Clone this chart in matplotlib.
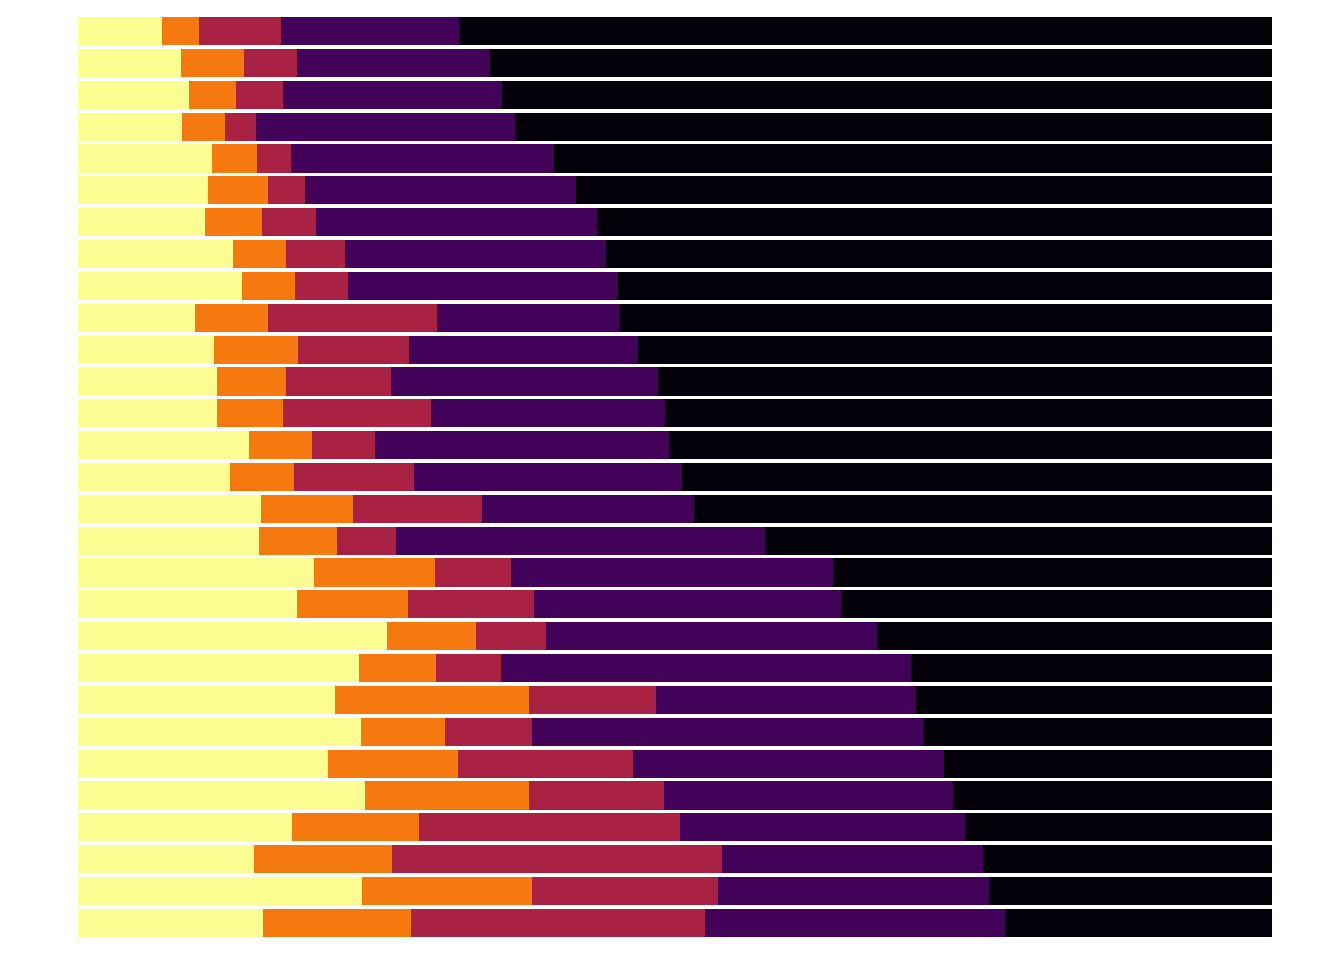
import numpy as np
import matplotlib
matplotlib.use("Agg")
import matplotlib.pyplot as plt

# segment shares (percent) per row, top row first
seg_a = [7.0, 8.6, 9.3, 8.7, 11.2, 10.9, 10.6, 13.0, 13.7, 9.8, 11.4, 11.6, 11.6, 14.3, 12.7,
         15.3, 15.2, 19.8, 18.3, 25.9, 23.5, 21.5, 23.7, 20.9, 24.0, 17.9, 14.7, 23.8, 15.5]
seg_b = [3.1, 5.3, 3.9, 3.6, 3.8, 5.0, 4.8, 4.4, 4.5, 6.1, 7.0, 5.8, 5.6, 5.3, 5.4,
         7.7, 6.5, 10.1, 9.3, 7.4, 6.5, 16.3, 7.0, 10.9, 13.8, 10.7, 11.6, 14.2, 12.4]
seg_c = [6.9, 4.4, 4.0, 2.6, 2.8, 3.1, 4.5, 5.0, 4.4, 14.2, 9.3, 8.8, 12.4, 5.3, 10.0,
         10.8, 4.9, 6.4, 10.6, 5.9, 5.4, 10.6, 7.3, 14.7, 11.3, 21.8, 27.6, 15.6, 24.6]
seg_d = [14.9, 16.2, 18.3, 21.7, 22.1, 22.7, 23.6, 21.8, 22.6, 15.2, 19.2, 22.4, 19.6, 24.6, 22.5,
         17.8, 30.9, 26.9, 25.7, 27.7, 34.4, 21.8, 32.8, 26.0, 24.2, 23.9, 21.9, 22.7, 25.1]
seg_e = [68.1, 65.5, 64.5, 63.4, 60.1, 58.3, 56.5, 55.8, 54.8, 54.7, 53.1, 51.4, 50.8, 50.5, 49.4,
         48.4, 42.5, 36.8, 36.1, 33.1, 30.2, 29.8, 29.2, 27.5, 26.7, 25.7, 24.2, 23.7, 22.4]

segments = [seg_a, seg_b, seg_c, seg_d, seg_e]
colors = ["#fcfe92", "#f5790e", "#a92244", "#42025a", "#04000a"]

fig = plt.figure(figsize=(13.44, 9.6), dpi=100)
ax = fig.add_axes([78 / 1344, 1 - 937 / 960, (1272 - 78) / 1344, (937 - 17) / 960])

n = len(seg_a)
y = np.arange(n)
height = 0.885
left = np.zeros(n)
for vals, col in zip(segments, colors):
    vals = np.array(vals)
    ax.barh(y, vals, left=left, height=height, color=col, edgecolor="none")
    left += vals

ax.set_xlim(0, 100)
ax.set_ylim(n - 1 + height / 2, -height / 2)
ax.axis("off")

fig.savefig("out.png", dpi=100)
